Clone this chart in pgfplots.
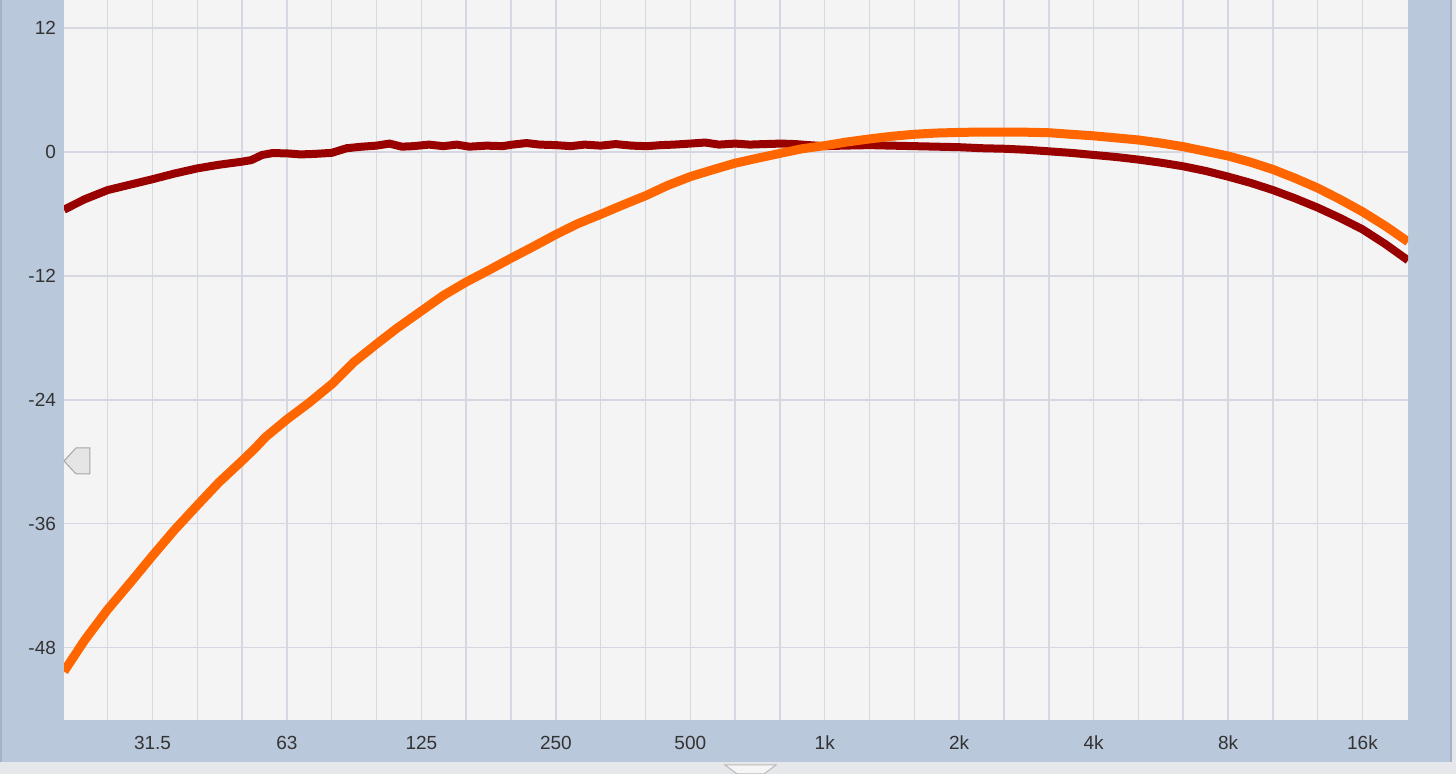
\documentclass[border=0pt]{standalone}
\usepackage{pgfplots}
\pgfplotsset{compat=1.18}
\usepackage{fontspec}
\setmainfont{Liberation Sans}

\definecolor{band}{HTML}{BAC8DC}
\definecolor{bandedge}{HTML}{A3B2C8}
\definecolor{strip}{HTML}{E6E7EA}
\definecolor{plotbg}{HTML}{F4F4F4}
\definecolor{gridc}{HTML}{D5D8E0}
\definecolor{labelc}{HTML}{333333}
\definecolor{darkred}{HTML}{990000}
\definecolor{orangec}{HTML}{FF6600}

\begin{document}
\begin{tikzpicture}
% window frame around the plot
\fill[strip] (-32pt,-27pt) rectangle (696pt,360pt);
\fill[band] (-32pt,-21pt) rectangle (694pt,360pt);
\fill[bandedge] (-32pt,-21pt) rectangle (-30.8pt,360pt);
\fill[bandedge] (693.2pt,-21pt) rectangle (694pt,360pt);

\begin{axis}[
    scale only axis,
    width=672pt, height=360pt,
    xmode=log,
    xmin=19.8, xmax=20235,
    ymin=-55, ymax=14.7,
    axis background/.style={fill=plotbg},
    axis line style={draw=none},
    major tick length=0pt, minor tick length=0pt,
    xtick={31.25,62.5,125,250,500,1000,2000,4000,8000,16000},
    xticklabels={31.5,63,125,250,500,1k,2k,4k,8k,16k},
    minor xtick={24.8,39.37,49.6,78.7,99.2,157.5,198.4,315,396.9,630,793.7,
        1260,1587,2520,3175,5040,6350,10079,12699},
    ytick={-48,-36,-24,-12,0,12},
    yticklabels={-48,-36,-24,-12,0,12},
    xmajorgrids, xminorgrids, ymajorgrids,
    major grid style={gridc, line width=0.75pt},
    minor grid style={gridc, line width=0.75pt},
    tick label style={font=\fontsize{9.5}{11}\selectfont, text=labelc},
    xticklabel style={yshift=-4.5pt},
    yticklabel style={xshift=-0.5pt},
    /pgf/number format/assume math mode=true,
    clip=true,
]

% measurement 1 (dark red)
\addplot[darkred, line width=4pt, line join=round] coordinates {
(19.8,-5.6) (22,-4.6) (24.8,-3.7) (28,-3.15) (31.25,-2.65) (35,-2.1)
(39.4,-1.6) (44,-1.25) (49.6,-0.95) (52,-0.8) (55,-0.3) (58,-0.12)
(62.5,-0.15) (67,-0.25) (72,-0.2) (78.7,-0.1) (85,0.35) (92,0.5)
(99.2,0.6) (106,0.8) (113,0.5) (120,0.55) (130,0.7) (140,0.55)
(150,0.7) (160,0.5) (175,0.6) (190,0.55) (200,0.7) (215,0.85)
(230,0.7) (250,0.65) (270,0.55) (290,0.7) (315,0.6) (340,0.75)
(370,0.6) (400,0.55) (430,0.65) (460,0.7) (500,0.8) (540,0.9)
(580,0.7) (630,0.8) (680,0.7) (730,0.75) (800,0.8) (860,0.75)
(920,0.65) (1000,0.55) (1100,0.6) (1260,0.65) (1410,0.6) (1587,0.55)
(1780,0.5) (2000,0.45) (2250,0.35) (2520,0.3) (2830,0.2) (3175,0.05)
(3560,-0.1) (4000,-0.3) (4490,-0.5) (5040,-0.75) (5660,-1.05) (6350,-1.4)
(7130,-1.85) (8000,-2.4) (8980,-3.0) (10079,-3.7) (11300,-4.5) (12699,-5.4)
(14250,-6.4) (16000,-7.5) (17960,-8.9) (20235,-10.5)
};

% measurement 2 (orange)
\addplot[orangec, line width=4.5pt, line join=round] coordinates {
(19.8,-50.3) (22,-47.3) (24.8,-44.3) (28,-41.6) (31.25,-39.1) (35,-36.6)
(39.4,-34.2) (44,-32.0) (49.6,-29.9) (53,-28.7) (56,-27.6) (62.5,-25.9)
(70,-24.3) (78.7,-22.5) (88,-20.4) (99.2,-18.6) (110,-17.1) (125,-15.4)
(140,-13.9) (157.5,-12.6) (178,-11.4) (198.4,-10.3) (222,-9.2) (250,-8.0)
(280,-6.95) (315,-6.05) (355,-5.1) (397,-4.25) (445,-3.25) (500,-2.4)
(560,-1.75) (630,-1.1) (710,-0.6) (794,-0.15) (890,0.3) (1000,0.6)
(1120,0.95) (1260,1.25) (1410,1.5) (1587,1.7) (1780,1.82) (2000,1.88)
(2250,1.92) (2520,1.92) (2830,1.9) (3175,1.85) (3560,1.7) (4000,1.55)
(4490,1.35) (5040,1.15) (5660,0.85) (6350,0.5) (7130,0.05) (8000,-0.4)
(8980,-1.0) (10079,-1.7) (11300,-2.55) (12699,-3.5) (14250,-4.6) (16000,-5.8)
(17960,-7.15) (20235,-8.7)
};
\end{axis}

% level marker on the left edge and handle at the bottom
\filldraw[fill=gray!20, draw=gray!70, line width=0.5pt]
    (0pt,129.5pt) -- (6pt,136pt) -- (13pt,136pt) -- (13pt,123pt) -- (6pt,123pt) -- cycle;
\filldraw[fill=white!92!gray, draw=gray!55, line width=0.5pt]
    (330.5pt,-22.5pt) -- (356pt,-22.5pt) -- (350pt,-27pt) -- (336.5pt,-27pt) -- cycle;

\pgfresetboundingbox
\useasboundingbox (-32pt,-27pt) rectangle (696pt,360pt);
\end{tikzpicture}
\end{document}
